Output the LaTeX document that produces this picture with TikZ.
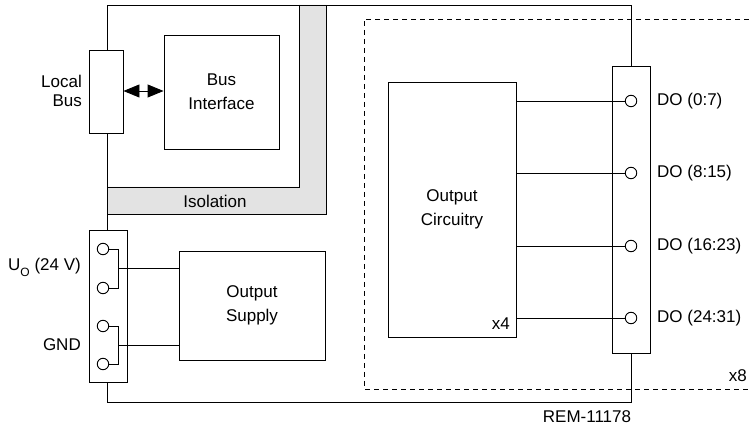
\documentclass[tikz,border=0pt]{standalone}
\usepackage{fontspec}
\setmainfont{Liberation Sans}
\usetikzlibrary{arrows.meta,calc}
\definecolor{isogray}{HTML}{E3E3E3}
\tikzset{
  txt/.style={font=\fontsize{17}{24}\selectfont, inner sep=0pt},
  box/.style={draw, line width=0.9pt, fill=white, inner sep=0pt},
  pin/.style={draw, circle, line width=0.9pt, fill=white, minimum size=11.5pt, inner sep=0pt},
  wire/.style={line width=0.9pt},
  bustip/.tip={Triangle[length=16pt,width=13pt]},
}
\begin{document}
\begin{tikzpicture}[x=1pt,y=-1pt]
\useasboundingbox (0,0) rectangle (749,427);
% isolation band
\fill[isogray] (299,5) -- (326,5) -- (326,214) -- (107,214) -- (107,187) -- (299,187) -- cycle;
\draw[wire] (299,5) -- (299,187) -- (107,187);
\draw[wire] (326,5) -- (326,214) -- (107,214);
\node[txt] (iso) at (215,201) {Isolation};
% outer box
\draw[wire] (107,5) rectangle (631,402);
% dashed region
\draw[wire, dash pattern=on 5pt off 4pt] (749,19) -- (364,19) -- (364,389) -- (749,389);
\node[txt, anchor=east] (x8) at (747,376) {x8};
% local bus
\node[box, minimum width=34pt, minimum height=83pt] (lb) at (106,91.5) {};
\node[box, minimum width=115pt, minimum height=114pt, align=center, txt] (bi) at (221.5,92) {Bus\\Interface};
\node[txt, anchor=east, align=right, font=\fontsize{17}{18.5}\selectfont] (lbl) at (82,91) {Local\\Bus};
\draw[wire, bustip-bustip] (lb.east |- 0,91) -- (bi.west |- 0,91);
% power connector
\node[box, minimum width=38pt, minimum height=152pt] (pc) at (108,306) {};
\node[pin] (p1) at (103,249) {};
\node[pin] (p2) at (103,288) {};
\node[pin] (p3) at (103,326) {};
\node[pin] (p4) at (103,364) {};
\node[box, minimum width=146pt, minimum height=109pt, align=center, txt] (os) at (252,305.5) {Output\\Supply};
\coordinate (j1) at (118,268);
\coordinate (j2) at (118,345);
\draw[wire] (p1.east) -- (p1.east -| j1) -- (p2.east -| j1) -- (p2.east);
\draw[wire] (p3.east) -- (p3.east -| j2) -- (p4.east -| j2) -- (p4.east);
\draw[wire] (j1) -- (os.west |- j1);
\draw[wire] (j2) -- (os.west |- j2);
\node[txt, anchor=east] (uo) at (81,267) {U\raisebox{-0.35em}{\fontsize{12}{12}\selectfont O} (24 V)};
\node[txt, anchor=east] (gnd) at (81,345) {GND};
% output circuitry
\node[box, minimum width=128pt, minimum height=255pt, align=center, txt] (oc) at (452,209.5) {Output\\Circuitry};
\node[txt, anchor=east] (x4) at (510,324) {x4};
\node[box, minimum width=38pt, minimum height=287pt] (doc) at (631,209.5) {};
\node[pin] (d1) at (631,101) {};
\node[pin] (d2) at (631,173) {};
\node[pin] (d3) at (631,246) {};
\node[pin] (d4) at (631,318) {};
\draw[wire] (oc.east |- d1) -- (d1.west);
\draw[wire] (oc.east |- d2) -- (d2.west);
\draw[wire] (oc.east |- d3) -- (d3.west);
\draw[wire] (oc.east |- d4) -- (d4.west);
\node[txt, anchor=west] (l1) at (657,101) {DO (0:7)};
\node[txt, anchor=west] (l2) at (657,173) {DO (8:15)};
\node[txt, anchor=west] (l3) at (657,246) {DO (16:23)};
\node[txt, anchor=west] (l4) at (657,318) {DO (24:31)};
\node[txt] (rem) at (587,417) {REM-11178};
\end{tikzpicture}
\end{document}
